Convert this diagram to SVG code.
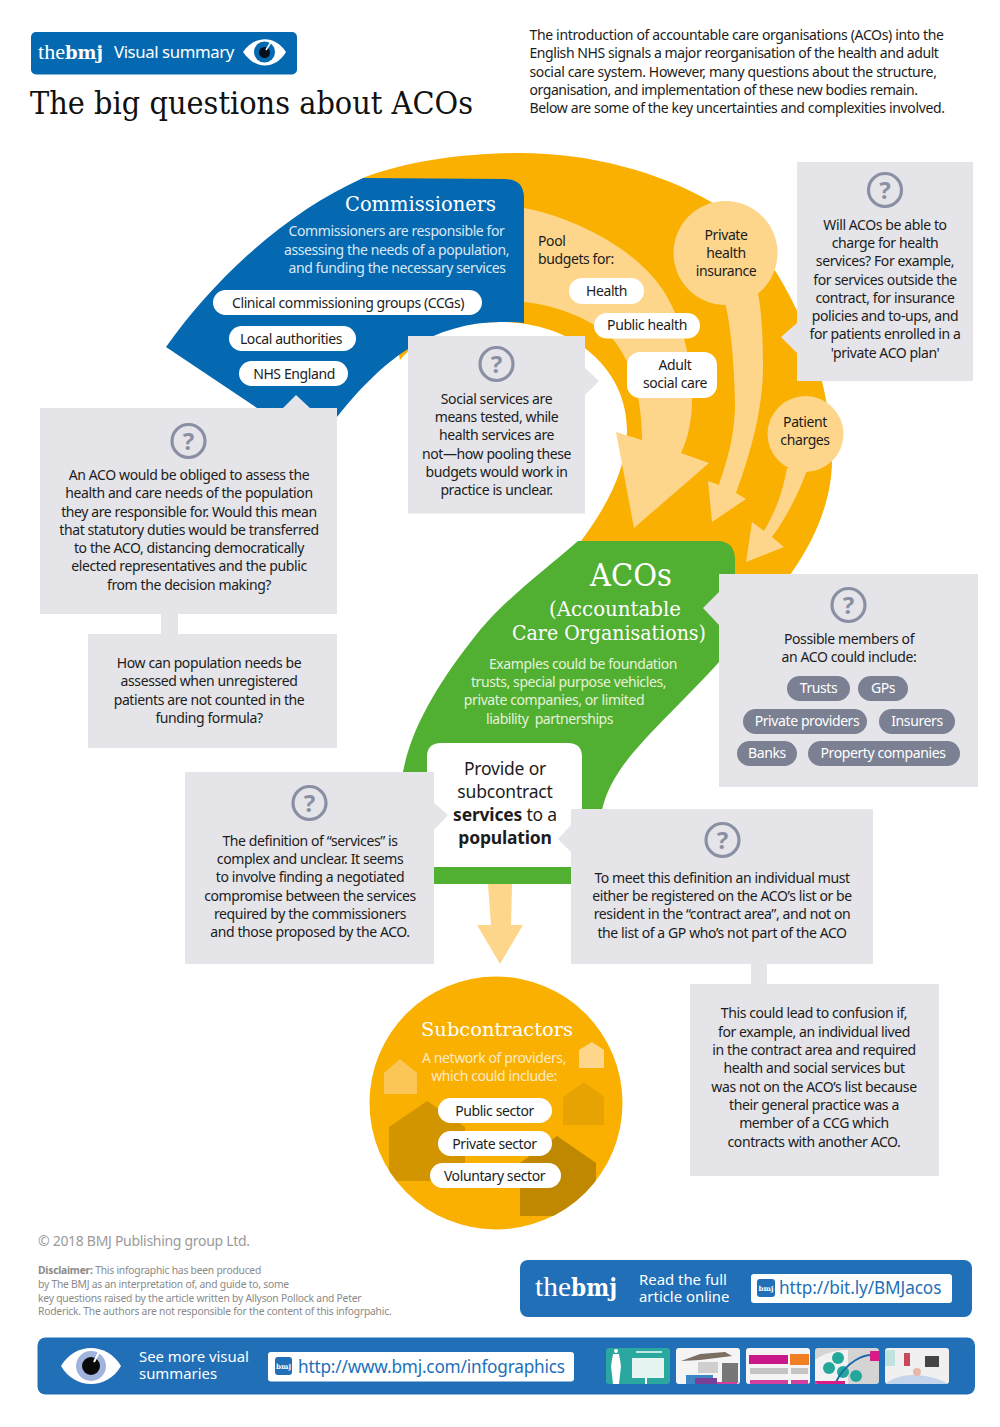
<svg xmlns="http://www.w3.org/2000/svg" width="1000" height="1427" viewBox="0 0 1000 1427">
<style>
text{font-family:"Noto Sans","Open Sans",sans-serif;font-size:14px;fill:#1c1c1c;letter-spacing:-.4px}
.m{text-anchor:middle}
.s{font-family:"DejaVu Serif","Liberation Serif",serif;letter-spacing:0;fill:#fff}
.box{fill:#e4e4e9}
.pill{fill:#fff}
.gp{fill:#7b8093}
.w{fill:#fff}
.pb{fill:#dbe8f5}
.pg{fill:#e6f3da}
.lo{fill:#fdd68c}
.qc{fill:none;stroke:#8a90a3;stroke-width:3.2}
.qt{font-size:24px;font-weight:700;fill:#8a90a3;text-anchor:middle;letter-spacing:0}
.ft{font-size:10.3px;fill:#8a8a8a;letter-spacing:-.22px}
.band{fill:#216fb7}
.url{font-size:17.2px;fill:#216fb7;letter-spacing:-.1px}
.rd{font-size:14.9px;fill:#fff;letter-spacing:0}
</style>
<defs>
<clipPath id="subclip"><circle cx="496" cy="1103" r="126.5"/></clipPath>
<clipPath id="th1"><rect x="606" y="1348" width="64" height="36" rx="3"/></clipPath>
<clipPath id="th2"><rect x="676" y="1348" width="64" height="36" rx="3"/></clipPath>
<clipPath id="th3"><rect x="746" y="1348" width="64" height="36" rx="3"/></clipPath>
<clipPath id="th4"><rect x="815" y="1348" width="64" height="36" rx="3"/></clipPath>
<clipPath id="th5"><rect x="885" y="1348" width="64" height="36" rx="3"/></clipPath>
</defs>
<rect width="1000" height="1427" fill="#fff"/>

<g id="header">
<rect x="31" y="32" width="266" height="42.500" rx="5" fill="#0469b1"/>
<text x="38" y="59" class="s" style="font-family:'Liberation Serif',serif;font-size:21px" textLength="27" lengthAdjust="spacingAndGlyphs">the</text>
<text x="65" y="59" class="s" style="font-size:18px;font-weight:700" textLength="38" lengthAdjust="spacingAndGlyphs">bmj</text>
<text x="114" y="58" class="w" style="font-size:17px" textLength="120" lengthAdjust="spacingAndGlyphs">Visual summary</text>
<path d="M243,52 C255,35 275,35 286,52 C275,70 255,70 243,52Z" fill="#fff"/>
<circle cx="264.500" cy="52" r="10.500" fill="#0469b1"/>
<circle cx="264.500" cy="52.500" r="5.500" fill="#06101c"/>
<path d="M266,50 L271,42" stroke="#fff" stroke-width="1.500"/>
<text x="30" y="114" class="s" style="fill:#111;font-size:31px" textLength="443" lengthAdjust="spacingAndGlyphs">The big questions about ACOs</text>
</g>
<g id="intro">
<text x="529.500" y="40" textLength="414">The introduction of accountable care organisations (ACOs) into the</text>
<text x="529.500" y="58" textLength="409">English NHS signals a major reorganisation of the health and adult</text>
<text x="529.500" y="77" textLength="407">social care system. However, many questions about the structure,</text>
<text x="529.500" y="95" textLength="388">organisation, and implementation of these new bodies remain.</text>
<text x="529.500" y="113" textLength="415">Below are some of the key uncertainties and complexities involved.</text>
</g>

<path id="flow-band" d="M363,178 C410,160 470,153 520,153 C590,153 660,172 713,203 C770,240 832,350 832,460 C832,500 815,540 790,575 L730,590 L578,545 C605,510 627,470 627,430 C627,370 575,322 500,322 C460,322 420,335 400,360Z" fill="#fab000"/>

<g id="commissioners">
<path d="M166,347 C215,278 285,213 363,178 L505,179 Q524,179 524,198 L524,323 C515,322 505,322 500,322 C470,322 440,330 408,349 C385,363 358,390 337,417 L300,430 L257,408Z" fill="#0469b1"/>
<text x="420.500" y="211" class="s m" style="font-size:21px" textLength="151" lengthAdjust="spacingAndGlyphs">Commissioners</text>
<text x="396.500" y="236" class="m pb">Commissioners are responsible for</text>
<text x="396.500" y="255" class="m pb">assessing the needs of a population,</text>
<text x="397" y="273" class="m pb">and funding the necessary services</text>
<rect x="213" y="290" width="269" height="25" rx="12.500" class="pill"/>
<text x="348" y="308" class="m">Clinical commissioning groups (CCGs)</text>
<rect x="229" y="326" width="127" height="25" rx="12.500" class="pill"/>
<text x="291" y="344" class="m">Local authorities</text>
<rect x="239" y="361" width="109" height="25" rx="12.500" class="pill"/>
<text x="294" y="379" class="m">NHS England</text>
</g>

<g id="pool">
<path d="M524,208 C575,218 625,245 653,277 C680,308 692,355 692,400 C692,420 688,438 681,453 L709,463 L634,528 L616,432 L642,440 C642,405 635,365 612,338 C590,318 555,305 524,302Z" class="lo"/>
<text x="538" y="246">Pool</text>
<text x="538" y="264">budgets for:</text>
<rect x="569" y="278" width="75" height="26" rx="13" class="pill"/>
<text x="606.500" y="296" class="m">Health</text>
<rect x="594" y="313" width="106" height="25.500" rx="12.700" class="pill"/>
<text x="647" y="330" class="m">Public health</text>
<rect x="627" y="352" width="90" height="46" rx="13" class="pill"/>
<text x="675" y="370" class="m">Adult</text>
<text x="675" y="388" class="m">social care</text>
</g>

<g id="private-insurance">
<circle cx="725.500" cy="253" r="52" class="lo"/>
<path d="M725,303 C732,330 735,380 735,407 C734,440 727,460 719,485 L708,481 L712,522 L746,499 L736,493 C750,455 763,410 763,367 C763,340 762,315 758,293Z" class="lo"/>
<text x="726" y="239.500" class="m">Private</text>
<text x="726" y="258" class="m">health</text>
<text x="726" y="276" class="m">insurance</text>
</g>

<g id="patient-charges">
<circle cx="805.500" cy="434" r="38" class="lo"/>
<path d="M787,468 C782,495 775,512 764,531 L752,522 L746,562 L784,547 L772,537 C788,515 800,490 807,470Z" class="lo"/>
<text x="805" y="427" class="m">Patient</text>
<text x="805" y="445" class="m">charges</text>
</g>

<g id="acos">
<path d="M578,541 L717,541 Q735,541 735,560 L735,600 L719,662 C690,695 640,740 620,770 C610,785 605,797 602,810 L602,850 L571,884 L434,884 L403,800 L403,772 C412,725 440,680 480,630 C510,595 545,570 578,541Z" fill="#51af32"/>
<text x="631" y="586" class="s m" style="font-size:31px" textLength="82" lengthAdjust="spacingAndGlyphs">ACOs</text>
<text x="615" y="616" class="s m" style="font-size:21px" textLength="132" lengthAdjust="spacingAndGlyphs">(Accountable</text>
<text x="609" y="640" class="s m" style="font-size:21px" textLength="194" lengthAdjust="spacingAndGlyphs">Care Organisations)</text>
<text x="583" y="669" class="m pg">Examples could be foundation</text>
<text x="568.500" y="687" class="m pg">trusts, special purpose vehicles,</text>
<text x="554" y="705" class="m pg">private companies, or limited</text>
<text x="549.500" y="724" class="m pg" textLength="127" style="white-space:pre">liability  partnerships</text>
<path d="M441,743 L568,743 Q582,743 582,757 L582,867 L427,867 L427,757 Q427,743 441,743Z" fill="#fff"/>
<text x="505" y="775" class="m" style="font-size:17.5px;letter-spacing:-.2px">Provide or</text>
<text x="505" y="798" class="m" style="font-size:17.5px;letter-spacing:-.2px">subcontract</text>
<text x="505" y="821" class="m" style="font-size:17.5px;letter-spacing:-.2px"><tspan font-weight="700">services</tspan> to a</text>
<text x="505" y="844" class="m" style="font-size:17.500px;letter-spacing:-.2px;font-weight:700">population</text>
</g>

<g id="connectors">
<path d="M488,884 L512,884 L511,925 L523,925 L500,964 L477,925 L491,925Z" class="lo"/>
<rect x="161" y="614" width="17" height="20" class="box"/>
<rect x="751" y="964" width="16" height="20" class="box"/>
</g>

<g id="subcontractors">
<circle cx="496" cy="1103" r="126.500" fill="#fab000"/>
<g clip-path="url(#subclip)">
<path d="M384,1073 L400,1059 L417,1073 L417,1094 L384,1094Z" fill="#fcc557"/>
<path d="M579,1050 L592,1042 L604,1050 L604,1068 L579,1068Z" fill="#fdd68c"/>
<path d="M563,1097 L584,1082 L604,1097 L604,1125 L563,1125Z" fill="#e6a302"/>
<path d="M389,1127 L427,1101 L465,1127 L465,1181 L389,1181Z" fill="#d29500"/>
<path d="M520,1163 L557,1136 L596,1163 L596,1216 L520,1216Z" fill="#bf8800"/>
</g>
<text x="497" y="1036" class="s m" style="font-size:19px" textLength="152" lengthAdjust="spacingAndGlyphs">Subcontractors</text>
<text x="494" y="1063" class="m" style="fill:#fdeac6">A network of providers,</text>
<text x="494" y="1081" class="m" style="fill:#fdeac6">which could include:</text>
<rect x="438" y="1098" width="114" height="25" rx="12.500" class="pill"/>
<text x="494.500" y="1116" class="m">Public sector</text>
<rect x="438" y="1131" width="114" height="25" rx="12.500" class="pill"/>
<text x="494.500" y="1148.500" class="m">Private sector</text>
<rect x="430" y="1163" width="131" height="25" rx="12.500" class="pill"/>
<text x="494.500" y="1181" class="m">Voluntary sector</text>
</g>

<g id="q-duty">
<path d="M40,408 H283 L296,395 L310,408 H337 V614 H40Z" class="box"/>
<circle cx="188.500" cy="441" r="16.500" class="qc"/><text x="188.500" y="449.500" class="qt">?</text>
<text x="189" y="480" class="m">An ACO would be obliged to assess the</text>
<text x="189" y="498" class="m">health and care needs of the population</text>
<text x="189" y="517" class="m">they are responsible for. Would this mean</text>
<text x="189" y="535" class="m">that statutory duties would be transferred</text>
<text x="189" y="553" class="m">to the ACO, distancing democratically</text>
<text x="189" y="571" class="m">elected representatives and the public</text>
<text x="189" y="590" class="m">from the decision making?</text>
</g>
<g id="q-unregistered">
<rect x="88" y="634" width="249" height="114" class="box"/>
<text x="209" y="668" class="m">How can population needs be</text>
<text x="209" y="686" class="m">assessed when unregistered</text>
<text x="209" y="705" class="m">patients are not counted in the</text>
<text x="209" y="723" class="m">funding formula?</text>
</g>
<g id="q-social">
<path d="M408,336 H585 V368 L599,381 L585,395 V513.500 H408Z" class="box"/>
<circle cx="496.500" cy="364" r="16.500" class="qc"/><text x="496.500" y="372.500" class="qt">?</text>
<text x="496.500" y="404" class="m">Social services are</text>
<text x="496.500" y="422" class="m">means tested, while</text>
<text x="496.500" y="440" class="m">health services are</text>
<text x="496.500" y="459" class="m">not—how pooling these</text>
<text x="496.500" y="477" class="m">budgets would work in</text>
<text x="496.500" y="495" class="m">practice is unclear.</text>
</g>
<g id="q-charge">
<path d="M797,162 H973 V381 H797 V353 L781,337 L797,323Z" class="box"/>
<circle cx="885" cy="190" r="16.500" class="qc"/><text x="885" y="198.500" class="qt">?</text>
<text x="885" y="230" class="m">Will ACOs be able to</text>
<text x="885" y="248" class="m">charge for health</text>
<text x="885" y="266" class="m">services? For example,</text>
<text x="885" y="285" class="m">for services outside the</text>
<text x="885" y="303" class="m">contract, for insurance</text>
<text x="885" y="321" class="m">policies and to-ups, and</text>
<text x="885" y="339" class="m">for patients enrolled in a</text>
<text x="885" y="358" class="m">'private ACO plan'</text>
</g>
<g id="q-members">
<path d="M719,574 H978 V787 H719 V625 L703,608 L719,592Z" class="box"/>
<circle cx="848.500" cy="605" r="16.500" class="qc"/><text x="848.500" y="613.500" class="qt">?</text>
<text x="849" y="644" class="m">Possible members of</text>
<text x="849" y="662" class="m">an ACO could include:</text>
<rect x="787" y="676" width="63" height="25" rx="12.500" class="gp"/><text x="818.500" y="693" class="m w">Trusts</text>
<rect x="858" y="676" width="50" height="25" rx="12.500" class="gp"/><text x="883" y="693" class="m w">GPs</text>
<rect x="743" y="709" width="124" height="25" rx="12.500" class="gp"/><text x="807" y="726" class="m w">Private providers</text>
<rect x="879" y="709" width="76" height="25" rx="12.500" class="gp"/><text x="917" y="726" class="m w">Insurers</text>
<rect x="737" y="741" width="60" height="25" rx="12.500" class="gp"/><text x="767" y="758" class="m w">Banks</text>
<rect x="808" y="741" width="152" height="25" rx="12.500" class="gp"/><text x="883" y="758" class="m w">Property companies</text>
</g>
<g id="q-services">
<path d="M185,772 H434 V803 L448,815 L434,830 V964 H185Z" class="box"/>
<circle cx="309.500" cy="803" r="16.500" class="qc"/><text x="309.500" y="811.500" class="qt">?</text>
<text x="310" y="846" class="m">The definition of “services” is</text>
<text x="310" y="864" class="m">complex and unclear. It seems</text>
<text x="310" y="882" class="m">to involve finding a negotiated</text>
<text x="310" y="901" class="m">compromise between the services</text>
<text x="310" y="919" class="m">required by the commissioners</text>
<text x="310" y="937" class="m">and those proposed by the ACO.</text>
</g>
<g id="q-definition">
<path d="M571,809 H873 V964 H571 V852 L558,839 L571,825Z" class="box"/>
<circle cx="722.500" cy="840" r="16.500" class="qc"/><text x="722.500" y="848.500" class="qt">?</text>
<text x="722" y="883" class="m">To meet this definition an individual must</text>
<text x="722" y="901" class="m">either be registered on the ACO’s list or be</text>
<text x="722" y="919" class="m">resident in the “contract area”, and not on</text>
<text x="722" y="938" class="m">the list of a GP who’s not part of the ACO</text>
</g>
<g id="q-confusion">
<rect x="690" y="984" width="249" height="192" class="box"/>
<text x="814" y="1018" class="m">This could lead to confusion if,</text>
<text x="814" y="1037" class="m">for example, an individual lived</text>
<text x="814" y="1055" class="m">in the contract area and required</text>
<text x="814" y="1073" class="m">health and social services but</text>
<text x="814" y="1092" class="m">was not on the ACO’s list because</text>
<text x="814" y="1110" class="m">their general practice was a</text>
<text x="814" y="1128" class="m">member of a CCG which</text>
<text x="814" y="1147" class="m">contracts with another ACO.</text>
</g>

<g id="footer">
<text x="38" y="1246" style="fill:#9a9a9a;letter-spacing:-.3px">© 2018 BMJ Publishing group Ltd.</text>
<text x="38" y="1274" class="ft"><tspan font-weight="700">Disclaimer:</tspan> This infographic has been produced</text>
<text x="38" y="1288" class="ft">by The BMJ as an interpretation of, and guide to, some</text>
<text x="38" y="1302" class="ft">key questions raised by the article written by Allyson Pollock and Peter</text>
<text x="38" y="1315" class="ft">Roderick. The authors are not responsible for the content of this infogrpahic.</text>
</g>
<g id="read-online">
<rect x="520" y="1260" width="452" height="57" rx="8" class="band"/>
<text x="535" y="1296" class="s" style="font-family:'Liberation Serif',serif;font-size:28px" textLength="36" lengthAdjust="spacingAndGlyphs">the</text>
<text x="571" y="1296" class="s" style="font-size:24px;font-weight:700" textLength="46" lengthAdjust="spacingAndGlyphs">bmj</text>
<text class="rd"><tspan x="639" y="1285">Read the full</tspan><tspan x="639" y="1302">article online</tspan></text>
<rect x="751" y="1274" width="201" height="29" rx="3" fill="#fff"/>
<rect x="757" y="1279" width="18" height="18" rx="3" class="band"/>
<text x="766" y="1291" class="s m" style="font-size:7px;font-weight:700">bmj</text>
<text x="779" y="1294" class="url">http://bit.ly/BMJacos</text>
</g>
<g id="see-more">
<rect x="37.500" y="1337.500" width="937.500" height="57" rx="8" class="band"/>
<path d="M61,1366 C75,1342 107,1342 121,1366 C107,1390 75,1390 61,1366Z" fill="#fff"/>
<circle cx="91" cy="1366" r="15" fill="#9fb3dc"/>
<circle cx="91" cy="1366" r="9" fill="#0a0a0a"/>
<path d="M94,1362 L99,1352" stroke="#fff" stroke-width="2"/>
<text class="rd"><tspan x="139" y="1362">See more visual</tspan><tspan x="139" y="1379">summaries</tspan></text>
<rect x="268" y="1352" width="306" height="29.500" rx="3" fill="#fff"/>
<rect x="275" y="1357" width="17" height="18" rx="3" class="band"/>
<text x="283.500" y="1369" class="s m" style="font-size:7px;font-weight:700">bmj</text>
<text x="298" y="1373" class="url" textLength="267">http://www.bmj.com/infographics</text>
<g clip-path="url(#th1)">
<rect x="606" y="1348" width="64" height="36" fill="#2aa8a0"/>
<rect x="632" y="1358" width="32" height="20" fill="#e6f4f2"/>
<rect x="636" y="1351" width="26" height="2" fill="#bfe6e1"/>
<rect x="645" y="1378" width="2" height="6" fill="#fff"/>
<circle cx="616" cy="1351" r="2" fill="#fff"/>
<path d="M613,1354 L619,1354 L621,1366 L619,1384 L613,1384 L611,1366Z" fill="#fff"/>
</g>
<g clip-path="url(#th2)">
<rect x="676" y="1348" width="64" height="36" fill="#f4f4f4"/>
<path d="M681,1361 L700,1354 L725,1352 L732,1356 L700,1360Z" fill="#7a6f60"/>
<rect x="698" y="1362" width="20" height="11" fill="#cfcfcf"/>
<rect x="722" y="1363" width="16" height="20" fill="#777"/>
<rect x="686" y="1375" width="27" height="9" fill="#3f86c4"/>
<rect x="695" y="1378" width="22" height="6" fill="#7a3f96"/>
<rect x="717" y="1382" width="20" height="2" fill="#d23f9d"/>
</g>
<g clip-path="url(#th3)">
<rect x="746" y="1348" width="64" height="36" fill="#f4f4f4"/>
<rect x="749" y="1355" width="39" height="9" fill="#c9188a"/>
<rect x="790" y="1354" width="19" height="11" fill="#f07f22"/>
<rect x="750" y="1368" width="38" height="6" fill="#c4c4c4"/>
<rect x="791" y="1368" width="17" height="6" fill="#c4c4c4"/>
<rect x="750" y="1380" width="38" height="4" fill="#d23f9d"/>
<rect x="791" y="1380" width="17" height="4" fill="#d23f9d"/>
</g>
<g clip-path="url(#th4)">
<rect x="815" y="1348" width="64" height="36" fill="#d4d4d4"/>
<path d="M815,1360 C825,1352 840,1350 848,1350 V1384 H815Z" fill="#f2f2f2"/>
<circle cx="838" cy="1358" r="6" fill="#23a79b"/>
<circle cx="829" cy="1368" r="6" fill="#23a79b"/>
<circle cx="843" cy="1372" r="6" fill="#23a79b"/>
<circle cx="856" cy="1376" r="6" fill="#23a79b"/>
<path d="M835,1384 C845,1362 865,1352 878,1356" fill="none" stroke="#1c68ae" stroke-width="2"/>
<rect x="870" y="1351" width="9" height="10" fill="#d81b87"/>
<rect x="815" y="1381" width="30" height="3" fill="#d81b87"/>
</g>
<g clip-path="url(#th5)">
<rect x="885" y="1348" width="64" height="36" fill="#f0f0f0"/>
<rect x="885" y="1350" width="10" height="16" fill="#bfe3df"/>
<rect x="904" y="1353" width="6" height="13" fill="#c9495c"/>
<rect x="925" y="1356" width="14" height="11" fill="#444"/>
<path d="M885,1384 C900,1372 925,1372 949,1384Z" fill="#c4d4ea"/>
<circle cx="917" cy="1372" r="4" fill="#e5b8a8"/>
</g>
</g>
</svg>
